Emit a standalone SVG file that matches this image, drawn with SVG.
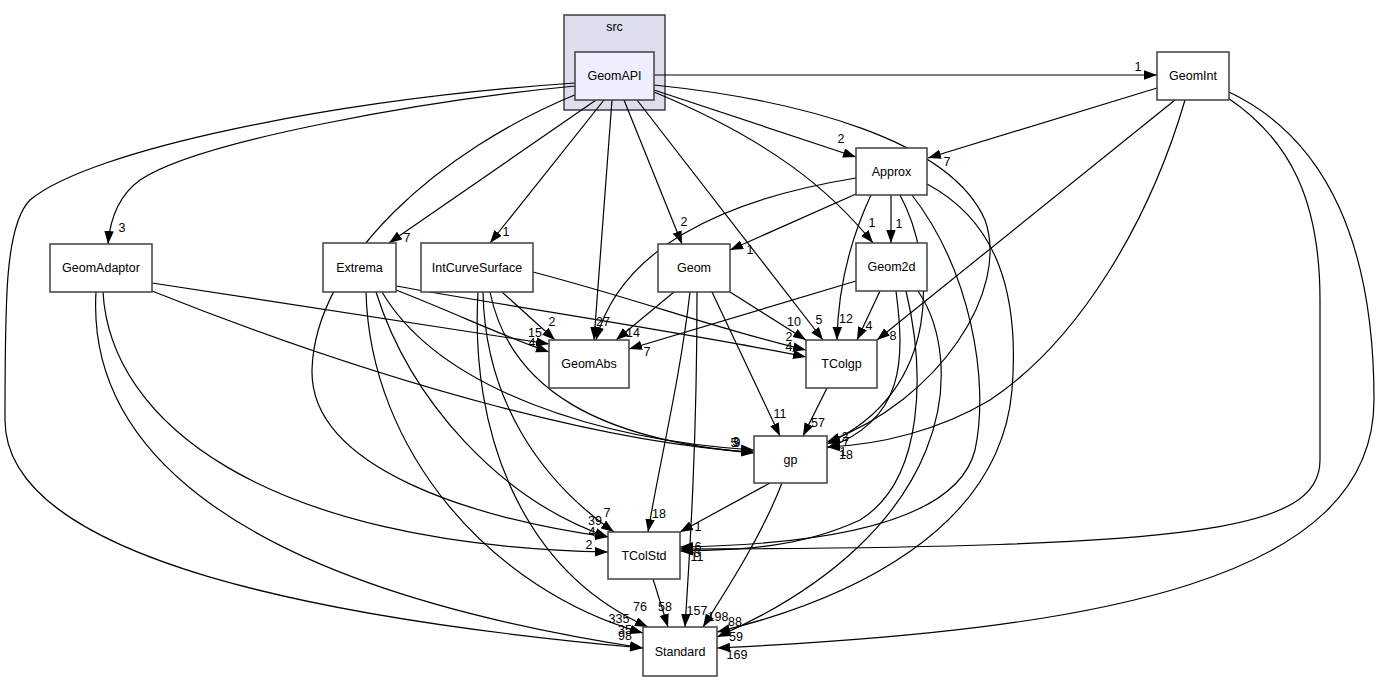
<svg xmlns="http://www.w3.org/2000/svg" width="1376" height="681" viewBox="0 0 1376 681">
<defs>
<marker id="ah" markerUnits="userSpaceOnUse" markerWidth="14" markerHeight="10" refX="13" refY="4.75" orient="auto"><path d="M0,0 L13,4.75 L0,9.5 z" fill="#000"/></marker>
<style>
.n rect{fill:#fff;stroke:#404040;stroke-width:1.5}
.t{font-family:"Liberation Sans",Arial,sans-serif;font-size:12.5px;text-anchor:middle;fill:#000}
.e path{fill:none;stroke:#000;stroke-width:1.2;marker-end:url(#ah)}
.l{font-family:"Liberation Sans",Arial,sans-serif;font-size:12.5px;text-anchor:middle;fill:#000}
</style>
</defs>
<rect width="1376" height="681" fill="#fff"/>
<g id="cluster_src">
<rect x="564" y="15" width="101" height="95" fill="#ddddee" stroke="#404040" stroke-width="1.5"/>
<text class="t" x="614.5" y="31">src</text>
</g>
<g id="connectors" class="e">
<path d="M654,75 L1157,75"/>
<path d="M654,90 L856,157"/>
<path d="M575,86 C430,100 200,140 140,180 C118,196 110,220 108,244"/>
<path d="M596,100 L389,243"/>
<path d="M604,100 L490,243"/>
<path d="M612,100 L594,340"/>
<path d="M624,100 L682,244"/>
<path d="M637,100 L823,340"/>
<path d="M654,92 C770,140 830,190 873,243"/>
<path d="M654,85 C800,100 950,140 985,220 C1010,290 940,400 827,442"/>
<path d="M577,94 C440,150 315,260 312,370 C310,470 480,520 608,537"/>
<path d="M575,83 C330,100 90,150 30,200 C5,225 5,300 5,420 C5,560 330,620 643,648"/>
<path d="M1157,88 L928,158"/>
<path d="M1175,100 L877,340"/>
<path d="M1185,100 C1150,220 1080,340 990,400 C940,430 880,445 827,447"/>
<path d="M1228,98 C1290,140 1320,200 1320,300 L1320,460 C1320,530 1200,548 680,549"/>
<path d="M1229,92 C1330,140 1374,250 1374,400 C1374,580 1100,630 717,648"/>
<path d="M891,195 L891,243"/>
<path d="M856,194 L730,250"/>
<path d="M856,178 C720,200 620,250 596,340"/>
<path d="M871,195 C850,240 838,290 837,340"/>
<path d="M900,195 C935,260 945,390 827,444"/>
<path d="M912,195 C970,270 990,380 975,450 C955,530 800,545 680,547"/>
<path d="M927,184 C995,220 1020,290 1012,390 C1000,530 850,600 717,632"/>
<path d="M856,281 L629,349"/>
<path d="M880,291 L857,340"/>
<path d="M896,291 C905,360 905,420 827,448"/>
<path d="M906,291 C925,370 925,480 860,520 C800,548 740,550 680,551"/>
<path d="M918,291 C965,360 960,530 717,637"/>
<path d="M674,292 L616,340"/>
<path d="M730,292 L806,340"/>
<path d="M712,292 L780,436"/>
<path d="M690,292 C680,380 660,460 648,532"/>
<path d="M697,292 C697,440 690,550 685,627"/>
<path d="M770,483 L680,532"/>
<path d="M782,483 C760,540 720,600 703,627"/>
<path d="M827,388 L803,436"/>
<path d="M653,579 L668,627"/>
<path d="M502,292 L555,340"/>
<path d="M533,272 C640,300 720,330 806,350"/>
<path d="M490,292 C510,390 600,440 754,453"/>
<path d="M483,292 C485,400 540,480 614,532"/>
<path d="M478,292 C470,430 520,570 648,627"/>
<path d="M396,290 C460,315 500,335 549,352"/>
<path d="M396,286 C500,305 700,335 806,357"/>
<path d="M382,292 C440,390 600,440 754,450"/>
<path d="M376,292 C410,400 500,500 608,537"/>
<path d="M366,292 C370,450 490,590 643,633"/>
<path d="M152,283 L549,344"/>
<path d="M152,291 C400,390 620,445 754,452"/>
<path d="M103,292 C110,420 260,545 608,552"/>
<path d="M96,292 C88,430 200,580 643,648"/>
</g>
<g id="edge_labels">
<text class="l" x="1138" y="71">1</text>
<text class="l" x="841" y="143">2</text>
<text class="l" x="947" y="166">7</text>
<text class="l" x="899" y="228">1</text>
<text class="l" x="872" y="227">1</text>
<text class="l" x="122" y="232">3</text>
<text class="l" x="407" y="242">7</text>
<text class="l" x="506" y="236">1</text>
<text class="l" x="684" y="226">2</text>
<text class="l" x="750" y="254">1</text>
<text class="l" x="552" y="326">2</text>
<text class="l" x="603" y="326">27</text>
<text class="l" x="535" y="337">15</text>
<text class="l" x="532" y="347">4</text>
<text class="l" x="633" y="337">14</text>
<text class="l" x="647" y="356">7</text>
<text class="l" x="794" y="326">10</text>
<text class="l" x="819" y="324">5</text>
<text class="l" x="846" y="323">12</text>
<text class="l" x="869" y="330">4</text>
<text class="l" x="893" y="340">8</text>
<text class="l" x="789" y="341">2</text>
<text class="l" x="789" y="351">4</text>
<text class="l" x="780" y="418">11</text>
<text class="l" x="818" y="427">57</text>
<text class="l" x="734" y="447">5</text>
<text class="l" x="737" y="447">9</text>
<text class="l" x="736" y="446">3</text>
<text class="l" x="845" y="441">2</text>
<text class="l" x="846" y="446">7</text>
<text class="l" x="843" y="456">1</text>
<text class="l" x="846" y="459">18</text>
<text class="l" x="607" y="517">7</text>
<text class="l" x="595" y="525">39</text>
<text class="l" x="592" y="536">4</text>
<text class="l" x="589" y="549">2</text>
<text class="l" x="659" y="518">18</text>
<text class="l" x="698" y="531">1</text>
<text class="l" x="698" y="551">6</text>
<text class="l" x="697" y="557">8</text>
<text class="l" x="697" y="561">11</text>
<text class="l" x="640" y="611">76</text>
<text class="l" x="665" y="611">58</text>
<text class="l" x="697" y="615">157</text>
<text class="l" x="718" y="621">198</text>
<text class="l" x="619" y="623">335</text>
<text class="l" x="625" y="634">35</text>
<text class="l" x="625" y="640">98</text>
<text class="l" x="735" y="626">88</text>
<text class="l" x="736" y="641">59</text>
<text class="l" x="737" y="659">169</text>
</g>
<g id="node_GeomAPI" class="n"><rect x="575" y="52" width="79" height="48" style="fill:#eeeeff"/><text class="t" x="614.5" y="80">GeomAPI</text></g>
<g id="node_GeomInt" class="n"><rect x="1157" y="52" width="72" height="48"/><text class="t" x="1193" y="80">GeomInt</text></g>
<g id="node_Approx" class="n"><rect x="856" y="148" width="71" height="47"/><text class="t" x="891.5" y="176">Approx</text></g>
<g id="node_Geom2d" class="n"><rect x="856" y="243" width="71" height="48"/><text class="t" x="891.5" y="271">Geom2d</text></g>
<g id="node_Geom" class="n"><rect x="658" y="244" width="72" height="48"/><text class="t" x="694" y="272">Geom</text></g>
<g id="node_IntCurveSurface" class="n"><rect x="421" y="243" width="112" height="49"/><text class="t" x="477" y="272">IntCurveSurface</text></g>
<g id="node_Extrema" class="n"><rect x="323" y="243" width="73" height="49"/><text class="t" x="359.5" y="272">Extrema</text></g>
<g id="node_GeomAdaptor" class="n"><rect x="50" y="244" width="102" height="48"/><text class="t" x="101" y="272">GeomAdaptor</text></g>
<g id="node_GeomAbs" class="n"><rect x="549" y="340" width="80" height="48"/><text class="t" x="589" y="368">GeomAbs</text></g>
<g id="node_TColgp" class="n"><rect x="806" y="340" width="71" height="48"/><text class="t" x="841.5" y="368">TColgp</text></g>
<g id="node_gp" class="n"><rect x="754" y="436" width="73" height="47"/><text class="t" x="790.5" y="464">gp</text></g>
<g id="node_TColStd" class="n"><rect x="608" y="532" width="72" height="47"/><text class="t" x="644" y="560">TColStd</text></g>
<g id="node_Standard" class="n"><rect x="643" y="627" width="74" height="49"/><text class="t" x="680" y="656">Standard</text></g>
</svg>
